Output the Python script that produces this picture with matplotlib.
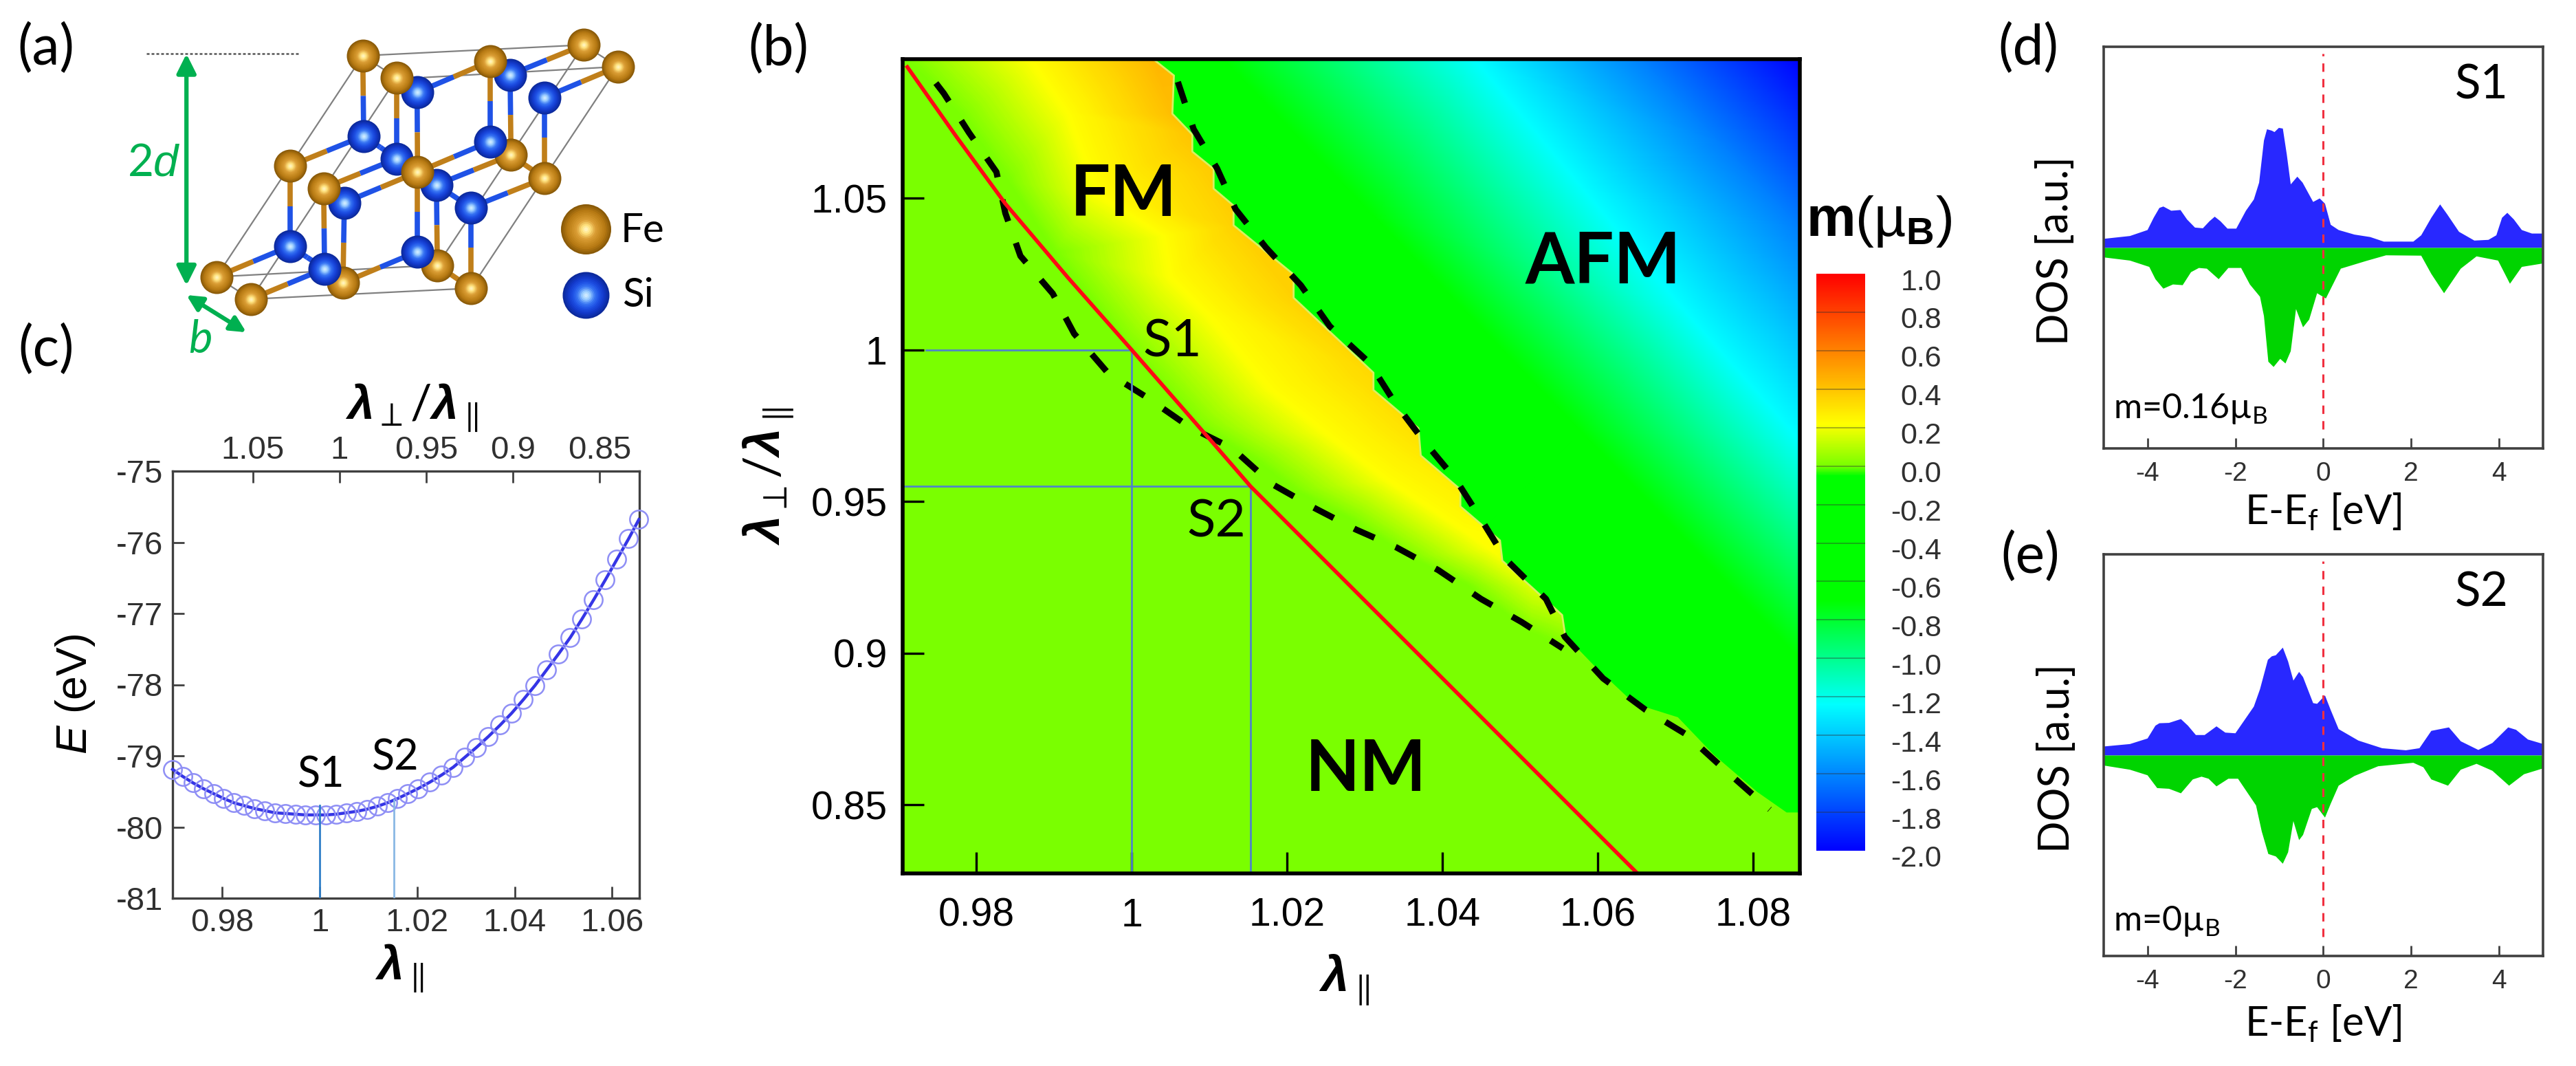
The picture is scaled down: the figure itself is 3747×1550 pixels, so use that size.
import numpy as np
import matplotlib
matplotlib.use("Agg")
import matplotlib.pyplot as plt
from matplotlib.collections import LineCollection
from matplotlib.colors import LinearSegmentedColormap, Normalize
from matplotlib.cm import ScalarMappable
from matplotlib.patches import Polygon
from matplotlib.transforms import ScaledTranslation

W, H = 3748, 1550

plt.rcParams['font.family'] = ['Liberation Sans', 'DejaVu Sans']
plt.rcParams['mathtext.fontset'] = 'custom'
plt.rcParams['mathtext.rm'] = 'Lato'
plt.rcParams['mathtext.it'] = 'Liberation Sans:italic'
plt.rcParams['mathtext.bf'] = 'Liberation Sans:bold'
plt.rcParams['mathtext.bfit'] = 'Liberation Sans:italic:bold'
plt.rcParams['mathtext.fallback'] = 'stixsans'

LAM_PERP = r'$\mathbfit{\lambda}_{\perp}/\mathbfit{\lambda}_{\parallel}$'
LAM_PAR = r'$\mathbfit{\lambda}_{\parallel}$'

# (a) crystal, read in crop units of the structure sketch
atom_x = [1268, 1108, 1110, 948, 950, 790, 630, 630, 470, 788, 1342, 1065, 1183, 1183,
          1065, 907, 1023, 1023, 745, 906, 862, 907, 862, 748, 705, 703, 545]
atom_y = [165, 275, 570, 680, 975, 500, 610, 905, 1018, 205, 245, 225, 358, 655,
          520, 925, 1060, 763, 1040, 340, 583, 633, 287, 745, 988, 692, 1100]
atom_kind = ['Fe', 'Si', 'Fe', 'Si', 'Fe', 'Si', 'Fe', 'Si', 'Fe', 'Fe', 'Fe', 'Fe', 'Si', 'Fe',
             'Si', 'Si', 'Fe', 'Si', 'Fe', 'Si', 'Si', 'Fe', 'Fe', 'Si', 'Si', 'Fe', 'Fe']
bond_from = [19, 11, 1, 12, 22, 9, 22, 19, 11, 1, 12, 6, 5, 25, 23, 21, 3, 17, 21, 14, 6, 25, 23, 21, 3, 17, 8, 26, 24, 18, 15]
bond_to = [11, 1, 0, 10, 19, 5, 20, 21, 14, 2, 13, 5, 20, 20, 21, 14, 2, 13, 17, 13, 7, 24, 18, 15, 4, 16, 7, 24, 7, 15, 16]
cell_from = [(788, 205), (920, 285), (788, 205), (862, 287), (1268, 165), (1342, 245),
             (470, 1018), (545, 1100), (788, 205), (1268, 165), (470, 1018)]
cell_to = [(1268, 165), (1342, 245), (470, 1018), (545, 1100), (950, 975), (1023, 1060),
           (950, 975), (1023, 1060), (862, 287), (1342, 245), (545, 1100)]

# (b) phase diagram
lam_par_ticks = [0.98, 1, 1.02, 1.04, 1.06, 1.08]
ratio_ticks = [0.85, 0.9, 0.95, 1, 1.05]
red_x = [0.9711, 0.9774, 0.9837, 0.9918, 1.0, 1.0105, 1.0153, 1.0265, 1.0404, 1.053, 1.0651]
red_y = [1.0933, 1.0704, 1.0483, 1.0238, 1.0, 0.9692, 0.955, 0.9263, 0.8907, 0.8584, 0.8274]

# FM / AFM edge, then NM / AFM edge
edge_x = [1.00286, 1.00542, 1.00522, 1.00779, 1.00779, 1.01053, 1.01053, 1.0131, 1.0131, 1.02083,
          1.02083, 1.03111, 1.03111, 1.0369, 1.0372, 1.0423, 1.0423, 1.0474, 1.0477, 1.0516,
          1.0554, 1.0558]
edge_y = [1.0957, 1.0905, 1.0779, 1.071, 1.0654, 1.0597, 1.0532, 1.0476, 1.0411, 1.0249,
          1.0172, 0.9925, 0.9868, 0.9742, 0.9652, 0.954, 0.9484, 0.9372, 0.9305, 0.9215,
          0.9126, 0.9058]
nm_edge_x = [1.0596, 1.0647, 1.0703, 1.0749, 1.0805, 1.0843, 1.0861]
nm_edge_y = [0.8957, 0.8834, 0.8789, 0.8666, 0.8543, 0.8475, 0.8475]

# dashed guides along the magnetic phase borders
dash_low_x = [0.97478, 0.9758, 0.97903, 0.98257, 0.98372, 0.98566, 0.98982, 0.99257, 0.9969, 1.00204,
              1.00743, 1.01292, 1.01805, 1.02336, 1.02885, 1.03407, 1.03947, 1.04496, 1.05018, 1.05549]
dash_low_y = [1.088, 1.0846, 1.0717, 1.0587, 1.0451, 1.031, 1.0186, 1.0054, 0.9925, 0.9842,
              0.9746, 0.9676, 0.9558, 0.9481, 0.9408, 0.9349, 0.9274, 0.9179, 0.9103, 0.9016]
dash_up_x = [1.00593, 1.00796, 1.01097, 1.01336, 1.01726, 1.02177, 1.02549, 1.03062, 1.03389, 1.03752,
             1.04168, 1.04513, 1.04814, 1.05332, 1.05575, 1.06068, 1.06611, 1.07133, 1.07681, 1.08212]
dash_up_y = [1.0884, 1.0728, 1.0599, 1.0464, 1.0338, 1.0213, 1.0078, 0.9957, 0.9825, 0.9702,
             0.9574, 0.9435, 0.931, 0.9179, 0.9054, 0.8917, 0.8814, 0.8733, 0.8605, 0.8485]

fm_zero_x = [0.97142, 0.97814, 0.98407, 0.99, 0.99912, 1.00779, 1.013, 1.0161, 1.02097, 1.02841, 1.03575, 1.0431, 1.05142, 1.0553]
fm_zero_y = [1.095, 1.0766, 1.0556, 1.0322, 1.0014, 0.9762, 0.968, 0.9633, 0.9537, 0.9438, 0.9317, 0.9227, 0.9068, 0.9025]
fm_yellow_x = [0.98726, 0.99177, 0.99558, 1.00504, 1.00973, 1.0177, 1.0254, 1.03283, 1.03867, 1.0431, 1.0461]
fm_yellow_y = [1.095, 1.0782, 1.0517, 1.024, 1.012, 0.9875, 0.9719, 0.9574, 0.9476, 0.9401, 0.9347]
fm_top_x = [1.00286, 1.00522, 1.00779, 1.01053, 1.0131, 1.02083, 1.03111, 1.0369, 1.0423, 1.0474, 1.0516, 1.0554]
fm_top_y = [1.0957, 1.0779, 1.071, 1.0597, 1.0411, 1.0172, 0.9925, 0.9742, 0.954, 0.9372, 0.9215, 0.9126]
fm_top_m = [0.44, 0.42, 0.4, 0.38, 0.36, 0.36, 0.34, 0.32, 0.27, 0.22, 0.16, 0.1]
nm_corner_x = [0.9705, 0.9705, 1.086, 1.086]
nm_corner_y = [0.8274, 1.0959, 0.8274, 1.0959]
nm_corner_m = [0, 0, 0, 0.4]

afm_green_x = [1.0, 1.0, 1.086, 1.01177, 1.0313, 1.0579, 1.086]
afm_green_y = [1.0959, 0.8274, 0.8274, 1.0959, 1.0438, 0.973, 0.8982]
afm_cyan_x = [1.04416, 1.0579, 1.0712, 1.086]
afm_cyan_y = [1.0959, 1.0537, 1.0129, 0.9703]
afm_azure_x = [1.0658, 1.0756, 1.086]
afm_azure_y = [1.0959, 1.0689, 1.0406]
afm_corner = (1.086, 1.0959, -2.0)

cbar_ticks = [-2.0, -1.8, -1.6, -1.4, -1.2, -1.0, -0.8, -0.6, -0.4, -0.2, 0.0, 0.2, 0.4, 0.6, 0.8, 1.0]
cmap_values = [-2, -1.62, -1.24, -0.7, -0.05, 0, 0.22, 1.0]
cmap_colors = ['#0000ff', '#0080ff', '#00ffff', '#00ff00', '#00ff00', '#78ff00', '#ffff00', '#ff0000']

# (c) energy curve
lam_par = [0.9698, 0.9719, 0.974, 0.9761, 0.9782, 0.9803, 0.9824, 0.9845, 0.9866, 0.9887, 0.9908,
           0.9929, 0.995, 0.9971, 0.9992, 1.0013, 1.0034, 1.0055, 1.0076, 1.0097, 1.0118, 1.0139,
           1.016, 1.0181, 1.0202, 1.0226, 1.025, 1.0274, 1.0298, 1.0322, 1.0346, 1.037, 1.0394,
           1.0418, 1.0442, 1.0466, 1.049, 1.0514, 1.0538, 1.0562, 1.0586, 1.061, 1.0634, 1.0655]
energy = [-79.19, -79.29, -79.38, -79.46, -79.53, -79.6, -79.66, -79.7, -79.74, -79.77, -79.8,
          -79.81, -79.82, -79.83, -79.83, -79.83, -79.82, -79.8, -79.78, -79.75, -79.71, -79.66,
          -79.6, -79.53, -79.46, -79.37, -79.27, -79.16, -79.02, -78.88, -78.73, -78.57, -78.4,
          -78.21, -78.01, -77.79, -77.57, -77.34, -77.08, -76.81, -76.53, -76.24, -75.95, -75.68]
c_xticks = [0.98, 1, 1.02, 1.04, 1.06]
c_top_ticks = [1.05, 1, 0.95, 0.9, 0.85]
c_yticks = [-81, -80, -79, -78, -77, -76, -75]
s1_par, s1_e = 1.0, -79.7
s2_par, s2_e = 1.0153, -79.62

# (d) S1 density of states
d_up_e = [-5, -4.41, -4.01, -3.87, -3.74, -3.65, -3.47, -3.26, -3.11, -2.93, -2.75, -2.6, -2.48, -2.35,
          -2.19, -1.99, -1.77, -1.59, -1.47, -1.36, -1.29, -1.18, -1.12, -1.02, -0.93, -0.84, -0.75,
          -0.6, -0.48, -0.24, -0.09, 0.03, 0.16, 0.34, 0.7, 1.06, 1.37, 2.04, 2.22, 2.45, 2.65, 2.81,
          3.08, 3.43, 3.75, 3.93, 4.06, 4.18, 4.33, 4.51, 4.74, 5]
d_up = [0.26, 0.34, 0.51, 0.86, 1.14, 1.18, 1.06, 1.08, 0.81, 0.58, 0.56, 0.76, 0.89, 0.76,
        0.55, 0.55, 1.06, 1.38, 1.86, 3.06, 3.38, 3.34, 3.3, 3.42, 3.4, 2.66, 1.81,
        2.03, 1.86, 1.31, 1.41, 1.26, 0.66, 0.51, 0.38, 0.31, 0.18, 0.18, 0.36, 0.86, 1.24, 0.96,
        0.46, 0.21, 0.23, 0.36, 0.86, 1.0, 0.81, 0.51, 0.41, 0.41]
d_dn_e = [-5, -4.41, -3.97, -3.83, -3.65, -3.43, -3.21, -3.02, -2.84, -2.66, -2.39, -2.17, -1.88, -1.68,
          -1.45, -1.36, -1.26, -1.14, -0.99, -0.87, -0.75, -0.63, -0.47, -0.33, -0.15, 0.05, 0.21, 0.39,
          0.97, 1.42, 2.22, 2.45, 2.74, 3.12, 3.48, 3.97, 4.24, 4.51, 5]
d_dn = [-0.27, -0.36, -0.54, -0.89, -1.16, -1.04, -1.06, -0.69, -0.57, -0.59, -0.89, -0.57, -0.57, -1.04,
        -1.39, -1.94, -3.24, -3.39, -3.16, -3.29, -2.94, -1.74, -2.26, -2.04, -1.29, -1.44, -1.04, -0.59,
        -0.37, -0.21, -0.22, -0.74, -1.29, -0.59, -0.24, -0.36, -1.02, -0.54, -0.44]

# (e) S2 density of states
e_up_e = [-5, -4.41, -4.01, -3.83, -3.74, -3.52, -3.25, -3.09, -2.91, -2.71, -2.44, -2.24, -2.01, -1.59,
          -1.45, -1.27, -1.18, -1.09, -0.93, -0.81, -0.69, -0.56, -0.47, -0.24, -0.15, 0.03, 0.16, 0.34,
          0.79, 1.33, 1.87, 2.18, 2.45, 2.85, 3.12, 3.52, 3.84, 4.2, 4.38, 4.65, 5]
e_up = [0.26, 0.33, 0.49, 0.86, 0.93, 0.94, 1.05, 0.86, 0.59, 0.59, 0.84, 0.66, 0.64, 1.41,
        1.91, 2.76, 2.86, 2.89, 3.11, 2.71, 2.16, 2.41, 2.26, 1.51, 1.49, 1.73, 1.31, 0.76,
        0.43, 0.21, 0.15, 0.21, 0.71, 0.81, 0.41, 0.16, 0.36, 0.81, 0.74, 0.46, 0.33]
e_dn_e = [-5, -4.41, -4.01, -3.79, -3.52, -3.25, -2.98, -2.78, -2.62, -2.44, -2.17, -1.95, -1.54, -1.41,
          -1.26, -1.09, -0.93, -0.81, -0.69, -0.56, -0.47, -0.27, -0.15, 0.03, 0.16, 0.34, 0.7, 1.24,
          2.04, 2.27, 2.45, 2.83, 3.12, 3.48, 3.84, 4.22, 4.56, 5]
e_dn = [-0.29, -0.41, -0.57, -0.94, -0.96, -1.09, -0.69, -0.61, -0.67, -0.89, -0.67, -0.67, -1.44, -2.19,
        -2.84, -2.91, -3.12, -2.79, -1.89, -2.44, -2.29, -1.54, -1.49, -1.79, -1.39, -0.87, -0.59, -0.31,
        -0.21, -0.34, -0.69, -0.87, -0.41, -0.24, -0.44, -0.87, -0.54, -0.37]
dos_ticks = [-4, -2, 0, 2, 4]


def px_axes(x0, y0, x1, y1):
    return fig.add_axes([x0 / W, 1 - y1 / H, (x1 - x0) / W, (y1 - y0) / H])


def label(x, y, txt, size, family='Lato', **kw):
    kw.setdefault('ha', 'center')
    kw.setdefault('va', 'center')
    fig.text(x / W, 1 - y / H, txt, fontsize=size, family=family, **kw)


def ball(ax, x, y, d_px, stops, zorder=3):
    cm = LinearSegmentedColormap.from_list('ball', stops)
    for frac in np.linspace(1, 0.08, 14):
        d = d_px * frac * 72 / 100
        ax.scatter([x], [y], s=d ** 2, color=cm(1 - frac), linewidths=0, zorder=zorder)


fig = plt.figure(figsize=(W / 100, H / 100), dpi=100, facecolor='white')

# ---- (a)
FE_STOPS = ['#8a5a08', '#b57812', '#c98c22', '#dca038', '#ffe480', '#fffbe0']
SI_STOPS = ['#0c2a9c', '#1238c8', '#1e50e4', '#3a78f4', '#9ed0ff', '#e8f8ff']
ax_a = px_axes(0, 0, 1050, 620)
ax_a.set_xlim(0, 1568)
ax_a.set_ylim(1568, 0)
ax_a.axis('off')
ax_a.patch.set_alpha(0)
ax_a.add_collection(LineCollection([[a, b] for a, b in zip(cell_from, cell_to)],
                                   colors='#808080', linewidths=1.6, zorder=1))
for i, j in zip(bond_from, bond_to):
    xm, ym = (atom_x[i] + atom_x[j]) / 2, (atom_y[i] + atom_y[j]) / 2
    for k in (i, j):
        col = '#c07f1a' if atom_kind[k] == 'Fe' else '#1f52e6'
        ax_a.plot([atom_x[k], xm], [atom_y[k], ym], color=col, lw=5.5, solid_capstyle='butt', zorder=2)
for x, y, kind in zip(atom_x, atom_y, atom_kind):
    ball(ax_a, x, y, 48, FE_STOPS if kind == 'Fe' else SI_STOPS)
ball(ax_a, 1272, 843, 73, FE_STOPS)
ball(ax_a, 1272, 1085, 68, SI_STOPS)
ax_a.plot([318, 648], [198, 198], color='#555555', lw=1.8, ls=(0, (1.6, 1.2)))
ax_a.annotate('', xy=(405, 198), xytext=(405, 1050),
              arrowprops=dict(arrowstyle='<|-|>', color='#00b050', lw=4.5, mutation_scale=42, shrinkA=0, shrinkB=0))
ax_a.annotate('', xy=(405, 1085), xytext=(535, 1222),
              arrowprops=dict(arrowstyle='<|-|>', color='#00b050', lw=4.5, mutation_scale=34, shrinkA=0, shrinkB=0))
label(224, 237, '2$\\mathit{d}$', 47, color='#00b050')
label(291, 494, 'b', 47, style='italic', color='#00b050')
label(935, 335, 'Fe', 42)
label(928, 429, 'Si', 42)
label(67, 70, '(a)', 58)
label(67, 508, '(c)', 58)
label(1132, 71, '(b)', 58)
label(2950, 70, '(d)', 58)
label(2953, 809, '(e)', 58)

# ---- (b)
norm = Normalize(-2, 1)
cmap = LinearSegmentedColormap.from_list(
    'moment', [((v + 2) / 3, c) for v, c in zip(cmap_values, cmap_colors)], N=1024)
ax_b = px_axes(1313, 86, 2618, 1270)
fm_x = fm_zero_x + fm_yellow_x + fm_top_x + nm_edge_x + nm_corner_x
fm_y = fm_zero_y + fm_yellow_y + fm_top_y + nm_edge_y + nm_corner_y
fm_m = [0.0] * len(fm_zero_x) + [0.22] * len(fm_yellow_x) + fm_top_m + [0.0] * len(nm_edge_x) + nm_corner_m
ax_b.tricontourf(fm_x, fm_y, fm_m, levels=np.linspace(-0.01, 0.46, 95), cmap=cmap, norm=norm,
                 antialiased=False, zorder=1)
afm_x = afm_green_x + afm_cyan_x + afm_azure_x + [afm_corner[0]]
afm_y = afm_green_y + afm_cyan_y + afm_azure_y + [afm_corner[1]]
afm_m = [-0.7] * len(afm_green_x) + [-1.24] * len(afm_cyan_x) + [-1.62] * len(afm_azure_x) + [afm_corner[2]]
afm_mesh = ax_b.tripcolor(afm_x, afm_y, afm_m, shading='gouraud', cmap=cmap, norm=norm, zorder=2)
afm_outline = list(zip(edge_x + nm_edge_x, edge_y + nm_edge_y)) + [(1.086, 1.0959)]
afm_clip = Polygon(afm_outline, closed=True, transform=ax_b.transData)
afm_mesh.set_clip_path(afm_clip)
ax_b.plot(edge_x, edge_y, color='#d8f060', lw=2, zorder=3)
ax_b.plot(dash_low_x, dash_low_y, color='black', lw=6.5, ls=(0, (3.6, 3.7)), zorder=4)
ax_b.plot(dash_up_x, dash_up_y, color='black', lw=6.5, ls=(0, (3.6, 3.7)), zorder=4)
ax_b.plot(red_x, red_y, color='#ff0a14', lw=4, zorder=6)
guide = '#4f86c6'
ax_b.plot([0.9735, 1.0], [1.0, 1.0], color=guide, lw=2, zorder=5)
ax_b.plot([0.9705, s2_par], [0.955, 0.955], color=guide, lw=2, zorder=5)
ax_b.plot([1.0, 1.0], [0.8274, 1.0], color=guide, lw=2, zorder=5)
ax_b.plot([s2_par, s2_par], [0.8274, 0.955], color=guide, lw=2, zorder=5)
ax_b.set_xlim(0.9705, 1.086)
ax_b.set_ylim(0.8274, 1.0959)
ax_b.set_xticks(lam_par_ticks, ['0.98', '1', '1.02', '1.04', '1.06', '1.08'])
ax_b.set_yticks(ratio_ticks, ['0.85', '0.9', '0.95', '1', '1.05'])
ax_b.tick_params(direction='in', length=22, width=2.4, labelsize=41, pad=16)
ax_b.tick_params(axis='x', pad=25)
for sp in ax_b.spines.values():
    sp.set_linewidth(4)
    sp.set_zorder(8)
label(1634, 284, 'FM', 74, weight='bold')
label(2332, 381, 'AFM', 74, weight='bold')
label(1987, 1120, 'NM', 74, weight='bold')
label(1705, 497, 'S1', 55)
label(1769, 759, 'S2', 55)
label(1955, 1425, LAM_PAR, 52)
label(1118, 692, LAM_PERP, 52, rotation=90)

# colour scale
cax = px_axes(2642, 398, 2713, 1237)
cb = fig.colorbar(ScalarMappable(norm=norm, cmap=cmap), cax=cax, ticks=cbar_ticks)
cb.outline.set_visible(False)
cb.ax.hlines(cbar_ticks[1:-1], 0, 1, transform=cb.ax.get_yaxis_transform(),
             colors='#303030', lw=1.2, alpha=0.45)
cb.ax.set_yticklabels(['%.1f' % t for t in cbar_ticks])
cb.ax.tick_params(length=0, labelsize=31, pad=80, labelcolor='#303030')
shift = ScaledTranslation(0, -8 / 100, fig.dpi_scale_trans)
for t in cb.ax.get_yticklabels():
    t.set_ha('right')
    t.set_transform(t.get_transform() + shift)
label(2733, 322, r'$\mathbf{m}$(µ$_{\mathbf{B}}$)', 58, family='Liberation Sans')

# ---- (c)
ax_c = px_axes(251, 685, 930, 1306)
ax_c.plot(lam_par, energy, color='#3535e6', lw=3.2, zorder=3, clip_on=False)
ax_c.plot(lam_par, energy, ls='none', marker='o', ms=19, mfc='none', mec='#8f8ff5', mew=1.8, zorder=4, clip_on=False)
ax_c.plot([s1_par, s1_par], [-81, s1_e], color='#2f7fc8', lw=2, zorder=5)
ax_c.plot([s2_par, s2_par], [-81, s2_e], color='#8ab8e4', lw=2, zorder=5)
ax_c.set_xlim(0.9698, 1.0656)
ax_c.set_ylim(-81, -75)
ax_c.set_xticks(c_xticks, ['0.98', '1', '1.02', '1.04', '1.06'])
ax_c.set_yticks(c_yticks, [str(v) for v in c_yticks])
ax_c.tick_params(direction='in', length=12, width=2, labelsize=34, pad=10, color='#404040', labelcolor='#303030')
for sp in ax_c.spines.values():
    sp.set_linewidth(2.4)
    sp.set_color('#404040')
ax_c_top = ax_c.twiny()
ax_c_top.set_xlim(1.0964, 0.827)
ax_c_top.set_xticks(c_top_ticks, ['1.05', '1', '0.95', '0.9', '0.85'])
ax_c_top.tick_params(direction='in', length=12, width=2, labelsize=34, pad=6, color='#404040', labelcolor='#303030')
ax_c_top.spines[:].set_visible(False)
label(599, 593, LAM_PERP, 50)
label(581, 1408, LAM_PAR, 50)
label(110, 1009, r'$\mathit{E}$ (eV)', 45, family='Liberation Sans', rotation=90)
label(467, 1127, 'S1', 44)
label(575, 1102, 'S2', 44)

# ---- (d) and (e)
for box, up_e, up, dn_e, dn, ylim, name, moment in [
        ((3060, 68, 3699, 652), d_up_e, d_up, d_dn_e, d_dn, 5.72, 'S1', 'm=0.16µ$_{\\mathrm{B}}$'),
        ((3060, 806, 3699, 1390), e_up_e, e_up, e_dn_e, e_dn, 5.79, 'S2', 'm=0µ$_{\\mathrm{B}}$')]:
    ax = px_axes(*box)
    ax.fill_between(up_e, 0, up, color='#2828ff', lw=0, zorder=2)
    ax.fill_between(dn_e, 0, dn, color='#00d400', lw=0, zorder=2)
    ax.plot([0, 0], [-ylim * 0.905, ylim * 0.965], color='#f03040', lw=2.2, ls=(0, (4, 3.4)), zorder=3)
    ax.set_xlim(-5, 5)
    ax.set_ylim(-ylim, ylim)
    ax.set_xticks(dos_ticks, [str(v) for v in dos_ticks])
    ax.set_yticks([])
    ax.tick_params(direction='in', length=11, width=2, labelsize=28, pad=14, color='#404040', labelcolor='#303030')
    for sp in ax.spines.values():
        sp.set_linewidth(2.6)
        sp.set_color('#404040')
    x0, y0, x1, y1 = box
    label(3610, y0 + 56, name, 50)
    label(3074, y0 + (526 if name == 'S1' else 533), moment, 36, ha='left')
    label(2991 + (2 if name == 'S2' else 0), y0 + 297, 'DOS [a.u.]', 44, rotation=90)
    label(3379, y1 + 92 + (6 if name == 'S2' else 0), 'E-E$_{\\mathrm{f}}$ [eV]', 43)

fig.savefig('out.png', dpi=100)
